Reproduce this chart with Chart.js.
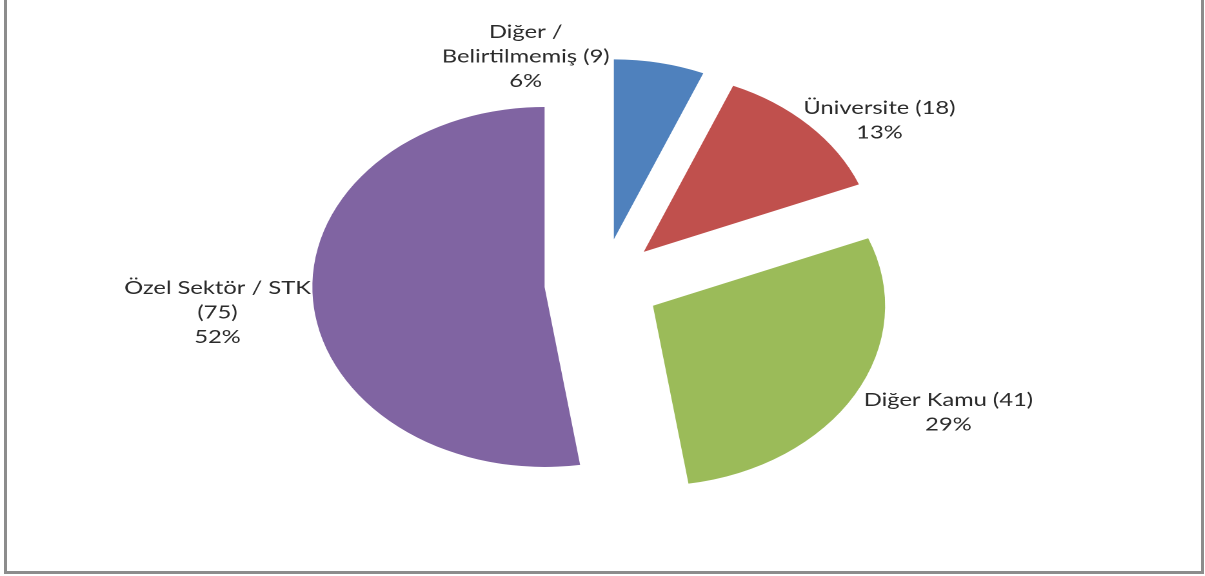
<!DOCTYPE html>
<html>
<head>
<meta charset="utf-8">
<script src="https://cdn.jsdelivr.net/npm/chart.js@4.4.0/dist/chart.umd.min.js"></script>
<style>
  html, body { margin: 0; padding: 0; background: #ffffff; overflow: hidden; width: 1205px; height: 576px; }
  #frame { position: absolute; left: 4px; top: -10px; width: 1200px; height: 584px; box-sizing: border-box; border: 3px solid #8c8c8c; border-top: none; }
  #stretch { position: absolute; left: 0; top: 0; width: 934px; height: 576px; transform: scaleX(1.29); transform-origin: 0 0; }
</style>
</head>
<body>
<div id="frame"></div>
<div id="stretch"><canvas id="c" width="934" height="576" style="width:934px;height:576px"></canvas></div>
<script>
// ---- data ----
const categories = ['Diğer / Belirtilmemiş', 'Üniversite', 'Diğer Kamu', 'Özel Sektör / STK'];
const counts = [9, 18, 41, 75];
const colors = ['#4F81BD', '#C0504D', '#9BBB59', '#8064A2'];

// ---- presentation ----
const EXPLODE = 45;       // px each slice is pulled out along its bisector
const RADIUS = 180;
const FONT = '18.4px Lato';
const LINE_H = 24.5;
const WRAP_W = 145;
// label anchor (centre of first line) relative to pie centre, in canvas px
const labelAnchor = [[-59.5, -251.5], [214.7, -175.5], [268.2, 116.5], [-298.4, 4.5]];

const total = counts.reduce((a, b) => a + b, 0);

function wrap(ctx, text, maxW) {
  const words = text.split(' ');
  const lines = [];
  let cur = '';
  words.forEach(w => {
    const t = cur ? cur + ' ' + w : w;
    if (cur && ctx.measureText(t).width > maxW) { lines.push(cur); cur = w; }
    else cur = t;
  });
  if (cur) lines.push(cur);
  return lines;
}

const explodePlugin = {
  id: 'explode',
  afterDatasetsUpdate(chart) {
    chart.getDatasetMeta(0).data.forEach(arc => {
      const mid = (arc.startAngle + arc.endAngle) / 2;
      arc.x += Math.cos(mid) * EXPLODE;
      arc.y += Math.sin(mid) * EXPLODE;
    });
  }
};

const labelPlugin = {
  id: 'pieLabels',
  afterDraw(chart) {
    const ctx = chart.ctx;
    const ca = chart.chartArea;
    const cx = (ca.left + ca.right) / 2, cy = (ca.top + ca.bottom) / 2;
    ctx.save();
    ctx.font = FONT;
    ctx.fillStyle = '#2b2b2b';
    ctx.textAlign = 'center';
    ctx.textBaseline = 'middle';
    categories.forEach((name, i) => {
      const pct = Math.round(counts[i] / total * 100) + '%';
      const lines = wrap(ctx, name + ' (' + counts[i] + ')', WRAP_W);
      lines.push(pct);
      const [dx, dy] = labelAnchor[i];
      lines.forEach((ln, k) => ctx.fillText(ln, cx + dx, cy + dy + k * LINE_H));
    });
    ctx.restore();
  }
};

new Chart(document.getElementById('c'), {
  type: 'pie',
  data: {
    labels: categories,
    datasets: [{
      data: counts,
      backgroundColor: colors,
      borderWidth: 0,
      radius: RADIUS
    }]
  },
  options: {
    responsive: false,
    animation: false,
    devicePixelRatio: 2,
    events: [],
    layout: { padding: { top: 0, bottom: 9, left: 0, right: 0 } },
    plugins: { legend: { display: false }, tooltip: { enabled: false } }
  },
  plugins: [explodePlugin, labelPlugin]
});
</script>
</body>
</html>
